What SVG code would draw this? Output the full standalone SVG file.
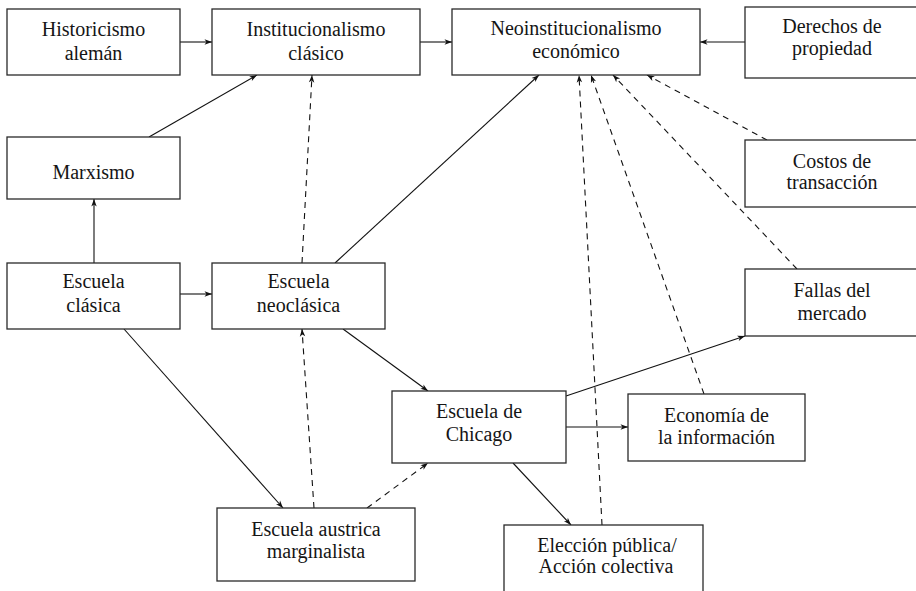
<svg xmlns="http://www.w3.org/2000/svg" width="916" height="591" viewBox="0 0 916 591">
<style>
.box{fill:#fff;stroke:#2a2a2a;stroke-width:1.3}
text{font-family:'Liberation Serif','Times New Roman','DejaVu Serif',serif;font-size:20px;fill:#151515;text-anchor:middle}
.e{fill:none;stroke:#111;stroke-width:1.1;marker-end:url(#ah)}
.d{stroke-dasharray:6 5}
</style>
<defs>
<marker id="ah" viewBox="-8 -4 9 8" refX="0" refY="0" markerWidth="9" markerHeight="8" markerUnits="userSpaceOnUse" orient="auto">
<path d="M0,0 L-7.5,-2.7 L-5.5,0 L-7.5,2.7 Z" fill="#111" stroke="none"/>
</marker>
</defs>
<rect width="916" height="591" fill="#fff"/>
<g id="connectors">
<line class="e" x1="180" y1="42" x2="212" y2="42"/>
<line class="e" x1="420" y1="42" x2="452" y2="42"/>
<line class="e" x1="745" y1="42" x2="700" y2="42"/>
<line class="e" x1="149" y1="137" x2="257" y2="75"/>
<line class="e d" x1="302" y1="263" x2="312" y2="75"/>
<line class="e" x1="335" y1="263" x2="539" y2="75"/>
<line class="e" x1="94" y1="263" x2="94" y2="199"/>
<line class="e" x1="180" y1="294" x2="212" y2="294"/>
<line class="e" x1="124" y1="329" x2="283" y2="508"/>
<line class="e" x1="343" y1="329" x2="428" y2="391"/>
<line class="e d" x1="314" y1="508" x2="302" y2="329"/>
<line class="e d" x1="367" y1="508" x2="428" y2="463"/>
<line class="e" x1="566" y1="396" x2="745" y2="336"/>
<line class="e" x1="566" y1="427" x2="628" y2="427"/>
<line class="e" x1="513" y1="463" x2="571" y2="525"/>
<line class="e d" x1="602" y1="525" x2="579" y2="75"/>
<line class="e d" x1="704" y1="394" x2="591" y2="75"/>
<line class="e d" x1="797" y1="269" x2="613" y2="75"/>
<line class="e d" x1="767" y1="140" x2="647" y2="75"/>
</g>
<g id="historicismo" font-family="Liberation Serif, serif"><rect class="box" x="7" y="9" width="173" height="66"/><text x="93.5" y="36">Historicismo</text><text x="93.5" y="60">alemán</text></g>
<g id="institucionalismo"><rect class="box" x="212" y="9" width="208" height="66"/><text x="316" y="36">Institucionalismo</text><text x="316" y="60">clásico</text></g>
<g id="neoinstitucionalismo"><rect class="box" x="452" y="9" width="248" height="66"/><text x="576" y="35">Neoinstitucionalismo</text><text x="576" y="58">económico</text></g>
<g id="derechos"><rect class="box" x="745" y="7" width="174" height="71"/><text x="832" y="33">Derechos de</text><text x="832" y="55">propiedad</text></g>
<g id="marxismo"><rect class="box" x="7" y="137" width="173" height="62"/><text x="93.5" y="179">Marxismo</text></g>
<g id="costos"><rect class="box" x="745" y="140" width="174" height="67"/><text x="832" y="168">Costos de</text><text x="832" y="189">transacción</text></g>
<g id="clasica"><rect class="box" x="7" y="263" width="173" height="66"/><text x="93.5" y="288">Escuela</text><text x="93.5" y="312">clásica</text></g>
<g id="neoclasica"><rect class="box" x="212" y="263" width="173" height="66"/><text x="298.5" y="288">Escuela</text><text x="298.5" y="312">neoclásica</text></g>
<g id="fallas"><rect class="box" x="745" y="269" width="174" height="67"/><text x="832" y="297">Fallas del</text><text x="832" y="320">mercado</text></g>
<g id="chicago"><rect class="box" x="392" y="391" width="174" height="72"/><text x="479" y="418">Escuela de</text><text x="479" y="441">Chicago</text></g>
<g id="informacion"><rect class="box" x="628" y="394" width="177" height="67"/><text x="716.5" y="422">Economía de</text><text x="716.5" y="444">la información</text></g>
<g id="austrica"><rect class="box" x="217" y="508" width="198" height="73"/><text x="316" y="536">Escuela austrica</text><text x="316" y="558">marginalista</text></g>
<g id="eleccion"><rect class="box" x="504" y="525" width="199" height="80"/><text x="607" y="552">Elección pública/</text><text x="606" y="573">Acción colectiva</text></g>
</svg>
